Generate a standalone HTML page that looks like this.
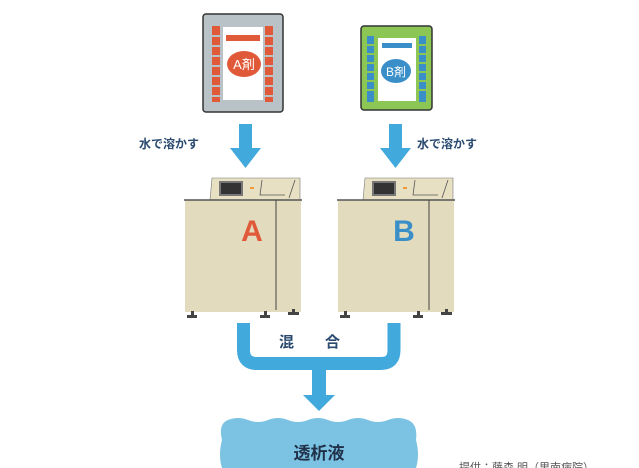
<!DOCTYPE html>
<html><head><meta charset="utf-8"><style>
html,body{margin:0;padding:0;background:#fff;width:639px;height:468px;overflow:hidden}
svg{display:block}
text{font-family:"Liberation Sans","Noto Sans CJK JP",sans-serif}
</style></head><body>
<svg width="639" height="468" viewBox="0 0 639 468">
<!-- Bag A -->
<rect x="203" y="14" width="80" height="98" fill="#b9c2c7" stroke="#333" stroke-width="1.5" rx="3"/>
<rect x="223" y="27" width="40" height="73" fill="#fff"/>
<g fill="#e05a3a">
<rect x="212" y="26" width="8" height="76"/><rect x="265" y="26" width="8" height="76"/>
</g>
<g fill="#b9c2c7">
<rect x="212" y="35" width="8" height="2"/><rect x="212" y="45" width="8" height="2"/><rect x="212" y="55" width="8" height="2"/><rect x="212" y="65" width="8" height="2"/><rect x="212" y="75" width="8" height="2"/><rect x="212" y="85" width="8" height="2"/><rect x="212" y="95" width="8" height="2"/>
<rect x="265" y="35" width="8" height="2"/><rect x="265" y="45" width="8" height="2"/><rect x="265" y="55" width="8" height="2"/><rect x="265" y="65" width="8" height="2"/><rect x="265" y="75" width="8" height="2"/><rect x="265" y="85" width="8" height="2"/><rect x="265" y="95" width="8" height="2"/>
</g>
<rect x="226" y="35" width="34" height="6" fill="#e05a3a"/>
<ellipse cx="244" cy="64" rx="17" ry="13" fill="#e05a3a"/>
<text x="244" y="69" font-size="13" fill="#fff" text-anchor="middle">A剤</text>
<!-- Bag B -->
<rect x="361" y="26" width="71" height="84" fill="#8cc654" stroke="#333" stroke-width="1.5" rx="3"/>
<rect x="378" y="38" width="38" height="63" fill="#fff"/>
<g fill="#3a8fc8">
<rect x="367" y="36" width="7" height="66"/><rect x="419" y="36" width="7" height="66"/>
</g>
<g fill="#8cc654">
<rect x="367" y="44" width="7" height="2"/><rect x="367" y="53" width="7" height="2"/><rect x="367" y="62" width="7" height="2"/><rect x="367" y="71" width="7" height="2"/><rect x="367" y="80" width="7" height="2"/><rect x="367" y="89" width="7" height="2"/>
<rect x="419" y="44" width="7" height="2"/><rect x="419" y="53" width="7" height="2"/><rect x="419" y="62" width="7" height="2"/><rect x="419" y="71" width="7" height="2"/><rect x="419" y="80" width="7" height="2"/><rect x="419" y="89" width="7" height="2"/>
</g>
<rect x="382" y="43" width="30" height="5" fill="#3a8fc8"/>
<ellipse cx="396" cy="71" rx="15" ry="12" fill="#3a8fc8"/>
<text x="396" y="76" font-size="12" fill="#fff" text-anchor="middle">B剤</text>
<!-- arrows down -->
<g fill="#42a9dd">
<rect x="239" y="124" width="13" height="25"/><polygon points="230,148 261,148 245.5,168"/>
<rect x="389" y="124" width="13" height="25"/><polygon points="380,148 411,148 395.5,168"/>
</g>
<text x="139" y="148" font-size="12" font-weight="bold" fill="#2a4a70">水で溶かす</text>
<text x="417" y="148" font-size="12" font-weight="bold" fill="#2a4a70">水で溶かす</text>
<!-- machines -->
<g id="m">
<polygon points="210,200 212,178 300,178 300,200" fill="#e7e0c3" stroke="#777" stroke-width="0.6"/>
<rect x="219" y="181" width="24" height="15" fill="#777"/><rect x="221" y="183" width="20" height="11" fill="#333"/>
<rect x="250" y="187" width="4" height="2" fill="#f29a3a"/>
<path d="M262,180 L260,195 L285,195 M295,180 L289,198" stroke="#555" stroke-width="0.8" fill="none"/>
<rect x="185" y="200" width="116" height="112" fill="#e2dbbe"/>
<line x1="184" y1="200" x2="302" y2="200" stroke="#555" stroke-width="1.5"/>
<line x1="276" y1="200" x2="276" y2="310" stroke="#444" stroke-width="1"/>
<g fill="#444"><rect x="187" y="315" width="10" height="3"/><rect x="191" y="311" width="3" height="5"/>
<rect x="260" y="315" width="10" height="3"/><rect x="264" y="311" width="3" height="5"/>
<rect x="288" y="312" width="11" height="3"/><rect x="292" y="309" width="3" height="5"/></g>
</g>
<use href="#m" transform="translate(153,0)"/>
<text x="252" y="241" font-size="30" font-weight="bold" fill="#e05a3a" text-anchor="middle">A</text>
<text x="404" y="241" font-size="30" font-weight="bold" fill="#3a8fc8" text-anchor="middle">B</text>
<!-- U pipe -->
<path d="M243.5,323 L243.5,350 Q243.5,363.5 257,363.5 L381,363.5 Q394,363.5 394,350 L394,323" stroke="#42a9dd" stroke-width="13" fill="none"/>
<rect x="312" y="368" width="14" height="28" fill="#42a9dd"/>
<polygon points="303,395 335,395 319,411" fill="#42a9dd"/>
<text x="279" y="347" font-size="15" font-weight="bold" fill="#2a4a70">混</text>
<text x="325" y="347" font-size="15" font-weight="bold" fill="#2a4a70">合</text>
<!-- liquid -->
<path d="M228,420 Q238,416 248,420 Q258,424 268,420 Q278,416 288,420 Q298,424 308,420 Q318,416 328,420 Q338,424 348,420 Q358,416 368,420 Q378,424 388,420 Q398,416 408,420 Q418,424 416,440 Q420,455 416,468 L222,468 Q218,455 222,440 Q218,424 228,420 Z" fill="#7cc3e3"/>
<text x="319" y="459" font-size="17" font-weight="bold" fill="#1f3048" text-anchor="middle">透析液</text>
<text x="459" y="471" font-size="11" fill="#555">提供：藤森 明（里南病院）</text>
</svg>
</body></html>
